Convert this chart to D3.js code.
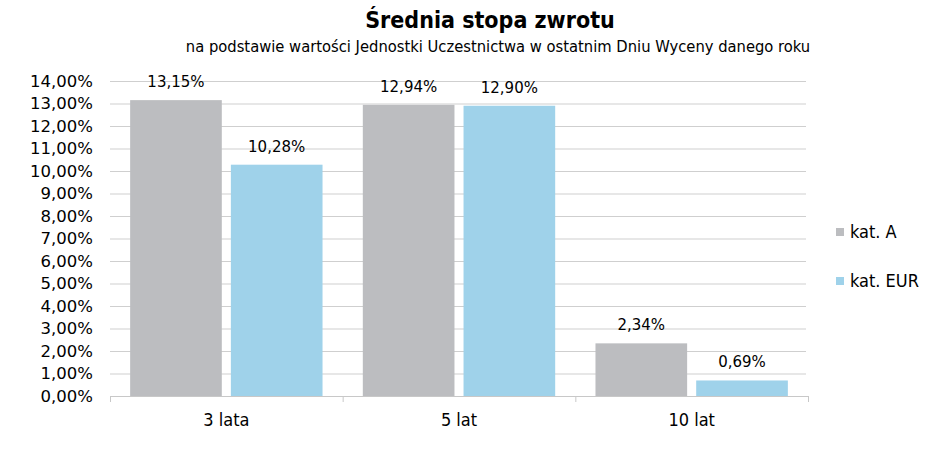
<!DOCTYPE html>
<html lang="pl">
<head>
<meta charset="UTF-8">
<script src="https://d3js.org/d3.v7.min.js"></script>
<style>
  body { margin: 0; background: #fff; }
  svg { display: block; }
</style>
</head>
<body>
<svg width="945" height="451"></svg>
<script>
// chart data
const categories = ['3 lata', '5 lat', '10 lat'];
const seriesNames = ['kat. A', 'kat. EUR'];
const katA = [13.15, 12.94, 2.34];
const katEUR = [10.28, 12.90, 0.69];
const yTicks = [0, 1, 2, 3, 4, 5, 6, 7, 8, 9, 10, 11, 12, 13, 14];
const colors = ['#bcbdc0', '#9fd2ea'];

const width = 945, height = 451;
const margin = { top: 81, right: 137, bottom: 55, left: 110 };
const fmt = v => v.toFixed(2).replace('.', ',') + '%';
const wideFont = '"DejaVu Sans", Verdana, sans-serif';
const narrowFont = '"DejaVu Sans Condensed", "DejaVu Sans", sans-serif';

const svg = d3.select('svg');

const x = d3.scaleBand()
    .domain(categories)
    .range([margin.left, 808]);

const xInner = d3.scaleBand()
    .domain(seriesNames)
    .range([0, x.bandwidth()])
    .paddingInner(0.09)
    .paddingOuter(0.2);

const y = d3.scaleLinear()
    .domain([0, 14])
    .range([height - margin.bottom, margin.top]);

// gridlines
svg.append('g')
    .selectAll('line')
    .data(yTicks.slice(1))
    .enter().append('line')
    .attr('x1', margin.left)
    .attr('x2', 806)
    .attr('y1', d => y(d) + 0.5)
    .attr('y2', d => y(d) + 0.5)
    .attr('stroke', '#cfcfcf')
    .attr('stroke-width', 1);

// y axis (labels only)
const yAxis = d3.axisLeft(y)
    .tickValues(yTicks)
    .tickFormat(fmt)
    .tickSize(0)
    .tickPadding(17);

const yg = svg.append('g')
    .attr('transform', `translate(${margin.left},0)`)
    .call(yAxis);
yg.select('.domain').remove();
yg.selectAll('text')
    .attr('font-family', wideFont)
    .attr('font-size', 16.5)
    .attr('fill', '#000');

// bars
const data = [];
categories.forEach((c, i) => {
    data.push({ cat: c, s: seriesNames[0], v: katA[i], col: colors[0] });
    data.push({ cat: c, s: seriesNames[1], v: katEUR[i], col: colors[1] });
});

svg.append('g')
    .selectAll('rect')
    .data(data)
    .enter().append('rect')
    .attr('x', d => x(d.cat) + xInner(d.s))
    .attr('y', d => y(d.v))
    .attr('width', xInner.bandwidth())
    .attr('height', d => y(0) - y(d.v))
    .attr('fill', d => d.col);

// value labels
svg.append('g')
    .selectAll('text')
    .data(data)
    .enter().append('text')
    .attr('x', d => x(d.cat) + xInner(d.s) + xInner.bandwidth() / 2)
    .attr('y', d => y(d.v) - 13)
    .attr('text-anchor', 'middle')
    .attr('font-family', wideFont)
    .attr('font-size', 15)
    .text(d => fmt(d.v));

// x axis
const xAxis = d3.axisBottom(x).tickSize(0).tickPadding(17);
const xg = svg.append('g')
    .attr('transform', `translate(0,${y(0) + 0.5})`)
    .call(xAxis);
xg.select('.domain').attr('stroke', '#c8c8c8').attr('d', `M${margin.left},0H808`);
xg.selectAll('text')
    .attr('font-family', narrowFont)
    .attr('font-size', 18)
    .attr('fill', '#000');

// category separators
svg.append('g')
    .selectAll('line')
    .data([margin.left, ...categories.map(c => x(c) + x.bandwidth())])
    .enter().append('line')
    .attr('x1', d => d + 0.5)
    .attr('x2', d => d + 0.5)
    .attr('y1', y(0))
    .attr('y2', y(0) + 6)
    .attr('stroke', '#c8c8c8');

// legend
const legend = svg.append('g')
    .selectAll('g')
    .data(seriesNames)
    .enter().append('g')
    .attr('transform', (d, i) => `translate(836,${232 + i * 49})`);
legend.append('rect')
    .attr('x', 0).attr('y', -4)
    .attr('width', 8).attr('height', 8)
    .attr('fill', (d, i) => colors[i]);
legend.append('text')
    .attr('x', 14)
    .attr('dy', '0.35em')
    .attr('font-family', narrowFont)
    .attr('font-size', 18)
    .text(d => d);

// titles
svg.append('text')
    .attr('x', 490)
    .attr('y', 28)
    .attr('text-anchor', 'middle')
    .attr('font-family', narrowFont)
    .attr('font-weight', 'bold')
    .attr('font-size', 23)
    .text('Średnia stopa zwrotu');

svg.append('text')
    .attr('x', 498)
    .attr('y', 52)
    .attr('text-anchor', 'middle')
    .attr('font-family', narrowFont)
    .attr('font-size', 16.4)
    .text('na podstawie wartości Jednostki Uczestnictwa w ostatnim Dniu Wyceny danego roku');
</script>
</body>
</html>
